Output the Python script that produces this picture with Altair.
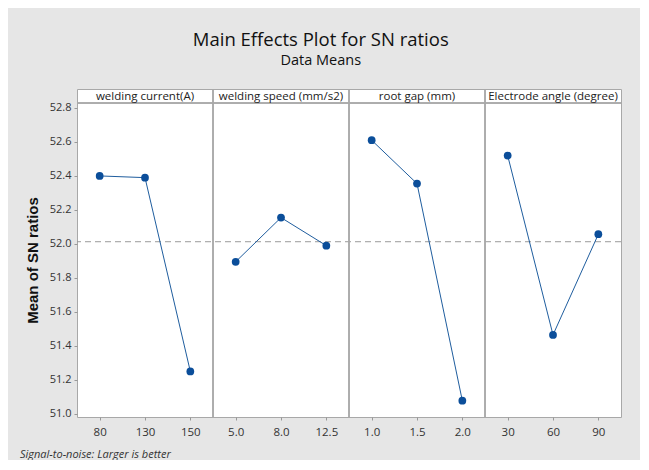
import altair as alt
import pandas as pd

factors = ["welding current(A)", "welding speed (mm/s2)", "root gap (mm)", "Electrode angle (degree)"]
levels = [["80", "130", "150"], ["5.0", "8.0", "12.5"], ["1.0", "1.5", "2.0"], ["30", "60", "90"]]
means = [
    [52.40, 52.39, 51.25],
    [51.895, 52.155, 51.99],
    [52.61, 52.355, 51.078],
    [52.52, 51.465, 52.057],
]
grand_mean = [52.013]
y_ticks = [51.0, 51.2, 51.4, 51.6, 51.8, 52.0, 52.2, 52.4, 52.6, 52.8]
y_domain = [50.982, 52.829]
note = ["Signal-to-noise: Larger is better"]

PW, PH, HH = 136, 314, 14
W = PW * len(factors)
FONT = "Open Sans"
LINE_COLOR = "#1f5d9e"
PT_COLOR = "#0b4e9a"
BORDER = "#a8a8a8"

rows = []
keys = []
for i, f in enumerate(factors):
    for lvl, m in zip(levels[i], means[i]):
        k = f"{i}|{lvl}"
        keys.append(k)
        rows.append({"factor": f, "key": k, "level": lvl, "mean": m})
df = pd.DataFrame(rows)
hdr = pd.DataFrame({"factor": factors, "key": [f"{i}|{levels[i][1]}" for i in range(len(factors))]})

xscale = alt.Scale(type="point", padding=0.5, domain=keys)
yscale = alt.Scale(domain=y_domain, nice=False, zero=False, range=[PH + HH, HH])

xaxis = alt.Axis(title=None, labelAngle=0, domain=False, tickSize=3,
                 tickColor="#999999", labelFont=FONT, labelFontSize=11.5,
                 labelColor="#333333", labelPadding=6,
                 labelExpr="split(datum.value, '|')[1]")
yaxis = alt.Axis(title="Mean of SN ratios", values=y_ticks, format=".1f",
                 domain=False, tickSize=3, tickColor="#999999",
                 labelFont=FONT, labelFontSize=11, labelColor="#333333",
                 labelPadding=3, titleFont="Liberation Sans",
                 titleFontSize=15, titleFontWeight="bold",
                 titleColor="#111111", titlePadding=9, grid=False,
                 titleY=(PH + 2 * HH) / 2)

X = alt.X("key:N", scale=xscale, axis=xaxis, sort=keys)
Y = alt.Y("mean:Q", scale=yscale, axis=yaxis)

base = alt.Chart(df)
line = base.mark_line(color=LINE_COLOR, strokeWidth=1).encode(
    x=X, y=Y, detail="factor:N"
)
pts = base.mark_point(filled=True, size=60, color=PT_COLOR, opacity=1).encode(x=X, y=Y)
rule = alt.Chart(pd.DataFrame({"mean": grand_mean})).mark_rule(
    color="#9a9a9a", strokeDash=[6, 4], strokeWidth=1
).encode(y=alt.Y("mean:Q", scale=yscale, axis=yaxis))

sep_h = alt.Chart(hdr).mark_rule(color=BORDER, strokeWidth=1).encode(
    y=alt.value(HH)
)
seps_v = [
    alt.Chart(hdr).mark_rule(color=BORDER, strokeWidth=1).encode(
        x=alt.value(PW * k), y=alt.value(0), y2=alt.value(PH + HH)
    )
    for k in range(1, len(factors))
]
htxt = alt.Chart(hdr).mark_text(
    font=FONT, fontSize=11.5, color="#222222", baseline="middle"
).encode(text="factor:N", x=alt.X("key:N", scale=xscale, axis=xaxis, sort=keys),
         y=alt.value(HH / 2 + 0.5))
foot = alt.Chart(pd.DataFrame({"t": note})).mark_text(
    align="left", baseline="middle", font=FONT, fontSize=11,
    fontStyle="italic", color="#333333"
).encode(text="t:N", x=alt.value(-57), y=alt.value(PH + HH + 38))

chart = alt.layer(rule, *seps_v, sep_h, line, pts, htxt, foot).properties(
    width=W, height=PH + HH,
    title=alt.TitleParams(
        "Main Effects Plot for SN ratios",
        subtitle="Data Means",
        font=FONT, fontSize=18.5, fontWeight="normal", color="#111111",
        subtitleFont=FONT, subtitleFontSize=14.5, subtitleColor="#111111",
        anchor="middle", frame="bounds", offset=21, subtitlePadding=5,
    ),
    padding={"left": 12, "right": 18, "top": 22, "bottom": 0},
    background="#e6e6e6",
).configure_view(stroke=BORDER, fill="white", strokeWidth=1)

chart.save("out.html", embed_options={"renderer": "svg", "actions": False})
